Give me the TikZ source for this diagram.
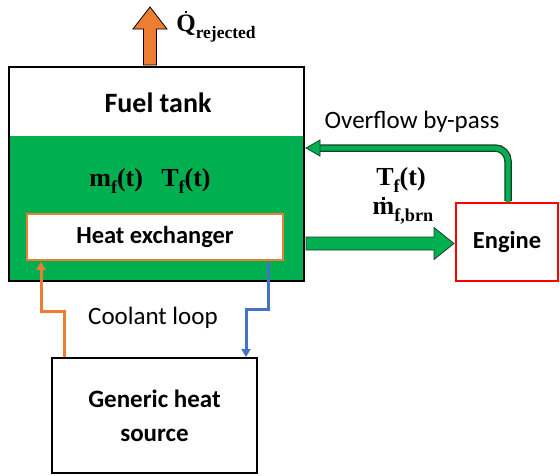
\documentclass[tikz,border=0pt]{standalone}
\usepackage{fontspec}
\usepackage{graphicx}
\setmainfont{Carlito}
\newfontfamily\serifm{Liberation Serif}
\usetikzlibrary{arrows.meta,calc}
\definecolor{forange}{HTML}{ED7D31}
\definecolor{fgreen}{HTML}{00B050}
\definecolor{fdark}{HTML}{1E3D28}
\definecolor{fblue}{HTML}{4472C4}
\definecolor{fred}{HTML}{FF0000}
\newsavebox\dotbx
\newcommand{\dotover}[1]{\sbox\dotbx{#1}\rlap{\smash{\hbox to\wd\dotbx{\hss\raisebox{\dimexpr\ht\dotbx+0.08em\relax}{\rule{0.11em}{0.11em}}\hss}}}\usebox\dotbx}
\newcommand{\subx}[1]{\raisebox{-0.28em}{\scalebox{0.7}{#1}}}
\tikzset{
  boxnode/.style={draw, line width=2pt, fill=white, inner sep=0pt, align=center},
  lbl/.style={inner sep=0pt},
  mlbl/.style={inner sep=0pt, font=\serifm\bfseries\fontsize{26}{30}\selectfont},
  coolant/.style={line width=3pt, -{Triangle[length=8pt,width=9pt]}},
  blockarrow/.style={line width=0.8pt, line join=miter}
}
\begin{document}
\begin{tikzpicture}[x=1pt,y=-1pt]
\useasboundingbox (0,0) rectangle (560,475);
% green fuel fill
\fill[fgreen] (9,136) rectangle (304,281);
% tank
\node[draw, line width=2pt, minimum width=295pt, minimum height=214pt, inner sep=0pt] (tank) at (156.5,174) {};
\node[lbl, font=\bfseries\fontsize{28}{32}\selectfont] (title) at (158,103) {Fuel tank};
\node[mlbl] (vars) at (150,181) {m\subx{f}(t)\hspace{0.7em}T\subx{f}(t)};
% heat exchanger
\node[boxnode, draw=forange, minimum width=256pt, minimum height=46pt, font=\bfseries\fontsize{24.5}{28}\selectfont] (hx) at (155,237) {Heat exchanger};
% engine
\node[boxnode, draw=fred, minimum width=102pt, minimum height=78pt, font=\bfseries\fontsize{24.5}{28}\selectfont] (eng) at (507,242) {Engine};
% generic heat source
\node[boxnode, minimum width=205pt, minimum height=115pt, font=\bfseries\fontsize{25}{34}\selectfont] (src) at (154.5,415.5) {Generic heat\\source};
% top rejected heat arrow
\coordinate (qb) at ($(tank.north)+(-6.5,-1)$);
\filldraw[blockarrow, fill=forange, draw=black]
  ($(qb)+(-6.5,0)$) -- ($(qb)+(-6.5,-36)$) -- ($(qb)+(-17,-36)$) -- ($(qb)+(0,-58)$)
  -- ($(qb)+(17,-36)$) -- ($(qb)+(6.5,-36)$) -- ($(qb)+(6.5,0)$) -- cycle;
\node[mlbl, font=\serifm\bfseries\fontsize{25}{29}\selectfont] (qlbl) at (216,29) {\dotover{Q}\subx{rejected}};
% fuel feed arrow
\coordinate (ga) at ($(tank.east |- eng.west)+(1,1.5)$);
\coordinate (gb) at ($(eng.west)+(-1,1.5)$);
\filldraw[blockarrow, fill=fgreen, draw=fdark]
  ($(ga)+(0,-6.5)$) -- ($(gb)+(-20,-6.5)$) -- ($(gb)+(-20,-16)$) -- (gb)
  -- ($(gb)+(-20,16)$) -- ($(gb)+(-20,6.5)$) -- ($(ga)+(0,6.5)$) -- cycle;
\node[mlbl] (tflbl) at (401,180) {T\subx{f}(t)};
\node[mlbl] (mflbl) at (403,213) {\dotover{m}\subx{f,brn}};
% overflow by-pass
\coordinate (ot) at ($(eng.north)+(1,-1)$);
\coordinate (oh) at ($(tank.east |- 0,148)+(15,0)$);
\draw[fdark, line width=7.5pt, rounded corners=13pt] (ot) |- (oh);
\draw[fgreen, line width=5pt, rounded corners=13pt] ($(ot)+(0,1)$) |- ($(oh)+(-1,0)$);
\filldraw[blockarrow, fill=fgreen, draw=fdark]
  ($(oh)+(0,-8)$) -- ($(tank.east |- oh)+(1,0)$) -- ($(oh)+(0,8)$) -- cycle;
\node[lbl, font=\fontsize{25}{29}\selectfont] (olbl) at (412,122) {Overflow by-pass};
% coolant loop
\draw[coolant, forange] ($(src.north west)+(13,0)$) |- ($(hx.south west)+(15,50)$) -- ($(hx.south west)+(15,1)$);
\draw[coolant, fblue] ($(hx.south east)+(-16,1)$) |- ($(src.north east)+(-12,-48)$) -- ($(src.north east)+(-12,0)$);
\node[lbl, font=\fontsize{25}{29}\selectfont] (clbl) at (153,318) {Coolant loop};
\end{tikzpicture}
\end{document}
